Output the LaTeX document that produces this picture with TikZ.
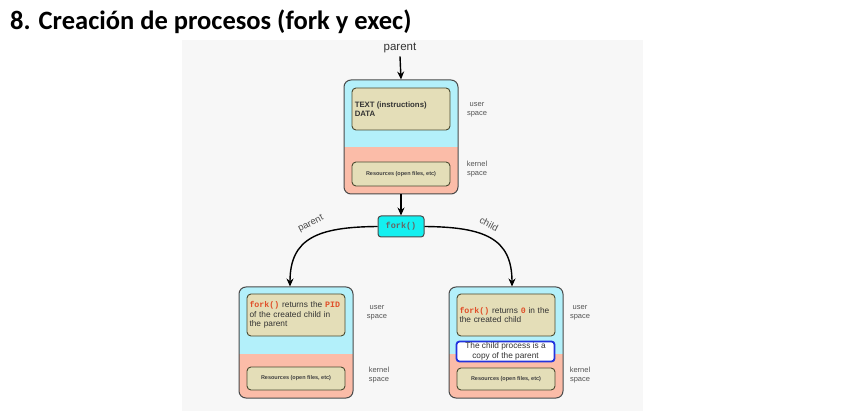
\documentclass[tikz,border=0pt]{standalone}
\usepackage{fontspec}
\setmainfont{Liberation Sans}
\newfontfamily\titlefont{Carlito}
\setmonofont{Liberation Mono}
\usetikzlibrary{arrows.meta,positioning,calc}
\definecolor{usercol}{HTML}{B3F0FA}
\definecolor{kerncol}{HTML}{FBBCA8}
\definecolor{tancol}{HTML}{E4DEB8}
\definecolor{tanedge}{HTML}{4A4A30}
\definecolor{frameedge}{HTML}{4A4A4A}
\definecolor{forkcol}{HTML}{14F0F0}
\definecolor{redtxt}{HTML}{E0502A}
\definecolor{bluebox}{HTML}{2233DD}
\definecolor{panel}{HTML}{F7F7F7}
\definecolor{labgrey}{HTML}{555555}
\tikzset{
  procframe/.style={draw=frameedge, line width=1pt, rounded corners=7pt, fill=usercol,
    minimum width=114pt, minimum height=#1, inner sep=0pt},
  splitat/.style={path picture={\fill[kerncol, sharp corners] (path picture bounding box.south west) rectangle ([yshift=#1]path picture bounding box.south east);}},
  tanbox/.style={draw=tanedge, line width=0.9pt, rounded corners=4pt, fill=tancol,
    minimum width=98pt, inner sep=0pt},
  forkbox/.style={draw=frameedge, line width=1pt, rounded corners=3pt, fill=forkcol,
    minimum width=46pt, minimum height=21pt, inner sep=0pt,
    font=\ttfamily\bfseries\fontsize{8.5}{10}\selectfont, text=black!60},
  spacelab/.style={font=\fontsize{7.5}{9}\selectfont, text=labgrey, align=center},
  restext/.style={font=\bfseries\fontsize{5.5}{7}\selectfont, text=black!75},
  bodytext/.style={font=\fontsize{8.3}{9.6}\selectfont, text=black!80, align=left, text width=93pt},
  arr/.style={-{Stealth[length=8pt,width=7pt]}, line width=1.4pt},
  curvelab/.style={font=\fontsize{9.5}{11}\selectfont, text=black!70, inner sep=1pt},
}
\newcommand{\redmono}[1]{{\ttfamily\bfseries\color{redtxt}#1}}
\begin{document}
\begin{tikzpicture}[x=1pt,y=-1pt]
\useasboundingbox (0,0) rectangle (853,411);
\fill[white] (0,0) rectangle (853,411);
\fill[panel] (182,40) rectangle (643,411);
\node[anchor=base west, font=\titlefont\bfseries\fontsize{26.5}{30}\selectfont, inner sep=0pt] (title) at (10,30) {8. Creación de procesos (fork y exec)};

% top (parent) process
\node[font=\fontsize{11.5}{13}\selectfont, text=black!80] (ptop) at (400,48) {parent};
\node[procframe=114pt, splitat=47pt] (P) at (401,137) {};
\node[tanbox, minimum height=42pt] (Ptext) at (401,109) {};
\node[anchor=west, align=left, font=\bfseries\fontsize{7.8}{8.6}\selectfont, text=black!80, inner sep=0pt] (Ptxt) at ([xshift=3pt]Ptext.west) {TEXT (instructions)\\DATA};
\node[tanbox, minimum height=24pt, restext] (Pres) at (401,174) {Resources (open files, etc)};
\node[spacelab] (Pu) at (477,110) {user\\space};
\node[spacelab] (Pk) at (477,169) {kernel\\space};

\draw[arr] (ptop.south) -- (P.north);

% fork
\node[forkbox] (F) at (401,226.5) {fork()};
\draw[arr] (P.south) -- (F.north);

% left (parent) process
\node[procframe=111pt, splitat=44pt] (L) at (296,342.5) {};
\node[tanbox, minimum height=42pt, bodytext] (Ltext) at (296,315) {\redmono{fork()} returns the \redmono{PID} of the created child in the parent};
\node[tanbox, minimum height=23pt, restext] (Lres) at (296,378.5) {Resources (open files, etc)};
\node[spacelab] (Lu) at (377,313) {user\\space};
\node[spacelab] (Lk) at (379,375) {kernel\\space};

% right (child) process
\node[procframe=111pt, splitat=44pt] (R) at (506,342.5) {};
\node[tanbox, minimum height=42pt, bodytext] (Rtext) at (506,315) {\redmono{fork()} returns \redmono{0} in the the created child};
\node[draw=bluebox, line width=1.8pt, rounded corners=3pt, fill=white, minimum width=98pt, minimum height=20pt, inner sep=0pt, align=center, font=\fontsize{8.3}{9.6}\selectfont, text=black!80] (Rcopy) at (505.5,351.5) {The child process is a\\copy of the parent};
\node[tanbox, minimum height=22pt, restext] (Rres) at (506,379) {Resources (open files, etc)};
\node[spacelab] (Ru) at (580,313) {user\\space};
\node[spacelab] (Rk) at (580,375) {kernel\\space};

% branches
\draw[arr] (F.west) .. controls (318,227) and (290,238) .. (L.north -| 290,0);
\draw[arr] (F.east) .. controls (484,227) and (512,238) .. (R.north -| 512,0);
\node[curvelab, rotate=27] (lp) at (311,224) {parent};
\node[curvelab, rotate=-27] (lc) at (489,224) {child};
\end{tikzpicture}
\end{document}
